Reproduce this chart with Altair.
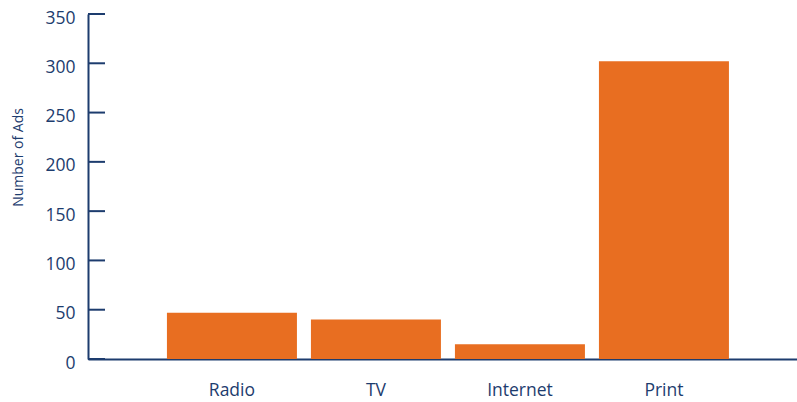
import altair as alt
import pandas as pd

categories = ["Radio", "TV", "Internet", "Print"]
values = [47, 40, 15, 302]
y_ticks = [0, 50, 100, 150, 200, 250, 300, 350]

NAVY = "#1d3c6e"
ORANGE = "#e86e21"
FONT = "Open Sans"

df = pd.DataFrame({"media": categories, "ads": values})
ticks_df = pd.DataFrame({"t": y_ticks})

x_scale = alt.Scale(domain=categories, paddingInner=0.0972, paddingOuter=0.5104, align=0.537)
y_scale = alt.Scale(domain=[0, 350], nice=False)

y_axis = alt.Axis(title="Number of Ads", values=y_ticks, ticks=False,
                  domainColor=NAVY, domainWidth=2, labelColor=NAVY,
                  labelFont=FONT, labelFontSize=17.5, labelPadding=13,
                  labelOffset=4, grid=False,
                  titleColor=NAVY, titleFont=FONT, titleFontSize=14,
                  titleFontWeight="normal", titleAngle=270,
                  titleX=-70, titleY=143, titleAlign="center",
                  titleBaseline="middle")

bars = alt.Chart(df).mark_bar(color=ORANGE).encode(
    x=alt.X("media:N", scale=x_scale, sort=categories,
            axis=alt.Axis(title=None, labelAngle=0, ticks=False, domainColor=NAVY,
                          domainWidth=2, labelColor=NAVY, labelFont=FONT,
                          labelFontSize=17.5, labelPadding=22, grid=False)),
    y=alt.Y("ads:Q", scale=y_scale, axis=y_axis),
)

tick_rules = alt.Chart(ticks_df).mark_rule(color=NAVY, strokeWidth=2).encode(
    y=alt.Y("t:Q", scale=y_scale, axis=y_axis),
    x=alt.value(0),
    x2=alt.value(17),
)

chart = alt.layer(tick_rules, bars).properties(
    width=709, height=345,
    background="white",
    autosize=alt.AutoSizeParams(type="none"),
    padding={"left": 88, "top": 14, "right": 0, "bottom": 43},
).configure_view(stroke=None).configure_axis(grid=False)

chart.save("out.html", embed_options={"renderer": "svg", "actions": False})
